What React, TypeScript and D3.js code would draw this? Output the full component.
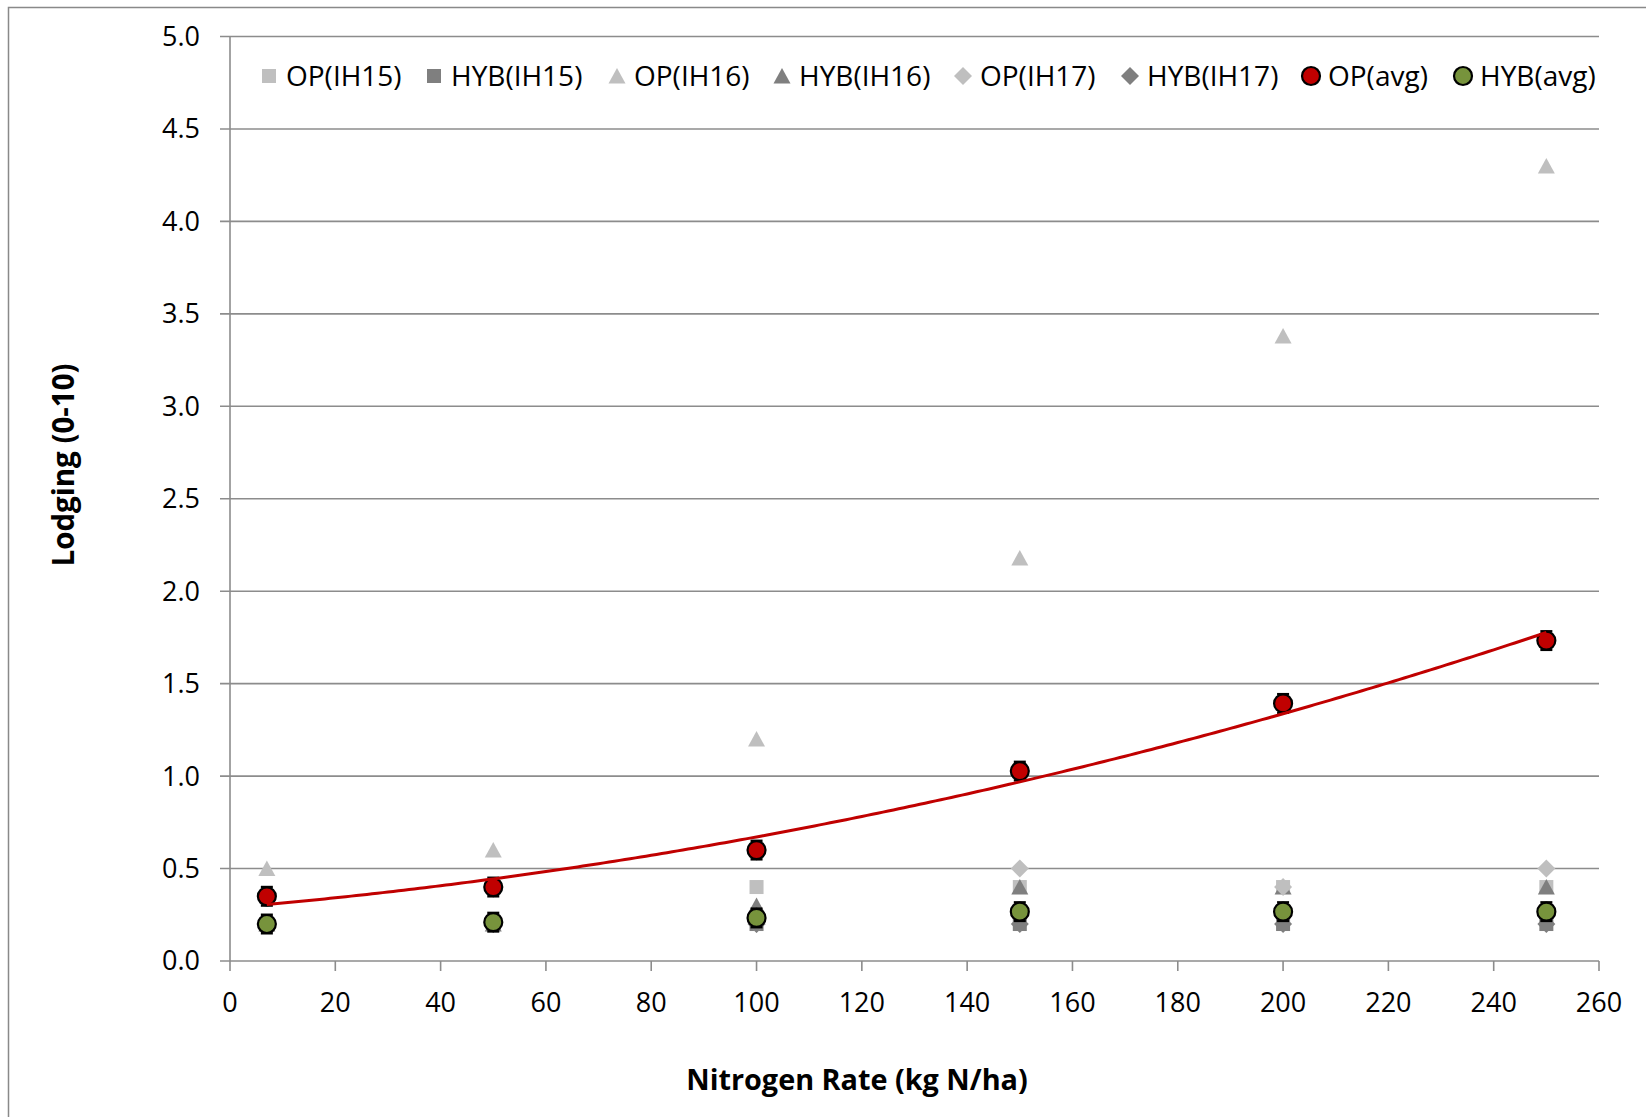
import React from "react";
import * as d3 from "d3";

// Nitrogen rates (kg N/ha)
const nRates = [7, 50, 100, 150, 200, 250];

// Lodging scores (0-10) by site-year and hybrid type
const opIH15 = [0.2, 0.2, 0.4, 0.4, 0.4, 0.4];
const hybIH15 = [0.2, 0.2, 0.2, 0.2, 0.2, 0.2];
const opIH16 = [0.5, 0.6, 1.2, 2.18, 3.38, 4.3];
const hybIH16 = [0.2, 0.2, 0.3, 0.4, 0.4, 0.4];
const opIH17 = [0.35, 0.4, 0.2, 0.5, 0.4, 0.5];
const hybIH17 = [0.2, 0.2, 0.2, 0.2, 0.2, 0.2];
const opAvg = [0.35, 0.4, 0.6, 1.027, 1.393, 1.733];
const hybAvg = [0.2, 0.21, 0.233, 0.267, 0.267, 0.267];
const opErr = [0.05, 0.05, 0.05, 0.05, 0.05, 0.05];
const hybErr = [0.05, 0.05, 0.05, 0.05, 0.05, 0.05];

const xTicks = [0, 20, 40, 60, 80, 100, 120, 140, 160, 180, 200, 220, 240, 260];
const yTicks = [0, 0.5, 1, 1.5, 2, 2.5, 3, 3.5, 4, 4.5, 5];

const legendLabels = [
  "OP(IH15)",
  "HYB(IH15)",
  "OP(IH16)",
  "HYB(IH16)",
  "OP(IH17)",
  "HYB(IH17)",
  "OP(avg)",
  "HYB(avg)",
];

const W = 1646;
const H = 1117;
const FONT = "'Open Sans', 'Liberation Sans', sans-serif";

const LIGHT = "#BFBFBF";
const DARK = "#7F7F7F";
const RED = "#C00000";
const GREEN = "#77933C";

type Shape = "square" | "triangle" | "diamond" | "circle";

function Marker({ shape, x, y, fill }: { shape: Shape; x: number; y: number; fill: string }) {
  if (shape === "square") return <rect x={x - 7} y={y - 7} width={14} height={14} fill={fill} />;
  if (shape === "triangle")
    return <path d={`M${x},${y - 8} L${x + 8.5},${y + 7.5} L${x - 8.5},${y + 7.5} Z`} fill={fill} />;
  if (shape === "diamond")
    return <path d={`M${x},${y - 9} L${x + 9},${y} L${x},${y + 9} L${x - 9},${y} Z`} fill={fill} />;
  return <circle cx={x} cy={y} r={9} fill={fill} stroke="#000" strokeWidth={2.2} />;
}

// Least-squares quadratic fit y = a + b x + c x^2
function quadFit(xs: number[], ys: number[]) {
  const n = xs.length;
  const s = [0, 0, 0, 0, 0];
  const t = [0, 0, 0];
  for (let i = 0; i < n; i++) {
    const xv = xs[i];
    for (let k = 0; k < 5; k++) s[k] += Math.pow(xv, k);
    for (let k = 0; k < 3; k++) t[k] += ys[i] * Math.pow(xv, k);
  }
  const M = [
    [s[0], s[1], s[2], t[0]],
    [s[1], s[2], s[3], t[1]],
    [s[2], s[3], s[4], t[2]],
  ];
  for (let i = 0; i < 3; i++) {
    let p = i;
    for (let r = i + 1; r < 3; r++) if (Math.abs(M[r][i]) > Math.abs(M[p][i])) p = r;
    [M[i], M[p]] = [M[p], M[i]];
    for (let r = 0; r < 3; r++) {
      if (r === i) continue;
      const f = M[r][i] / M[i][i];
      for (let c = i; c < 4; c++) M[r][c] -= f * M[i][c];
    }
  }
  return [M[0][3] / M[0][0], M[1][3] / M[1][1], M[2][3] / M[2][2]];
}

export default function App() {
  const x = d3.scaleLinear().domain([0, 260]).range([230, 1599]);
  const y = d3.scaleLinear().domain([0, 5]).range([961, 36.5]);

  const [a, b, c] = quadFit(nRates, opAvg);
  const fitX = d3.range(nRates[0], nRates[nRates.length - 1] + 0.5, 1);
  const line = d3
    .line<number>()
    .x((v) => x(v))
    .y((v) => y(a + b * v + c * v * v));

  const series: { vals: number[]; shape: Shape; fill: string }[] = [
    { vals: opIH15, shape: "square", fill: LIGHT },
    { vals: hybIH15, shape: "square", fill: DARK },
    { vals: opIH16, shape: "triangle", fill: LIGHT },
    { vals: hybIH16, shape: "triangle", fill: DARK },
    { vals: opIH17, shape: "diamond", fill: LIGHT },
    { vals: hybIH17, shape: "diamond", fill: DARK },
  ];

  const legendMarkerX = [269, 434, 617, 782, 963, 1130, 1311, 1463];
  const legendShapes: Shape[] = ["square", "square", "triangle", "triangle", "diamond", "diamond", "circle", "circle"];
  const legendFills = [LIGHT, DARK, LIGHT, DARK, LIGHT, DARK, RED, GREEN];
  const legendY = 76;

  const errBars = (vals: number[], errs: number[]) =>
    vals.map((v, i) => {
      const cx = x(nRates[i]);
      const y1 = y(v + errs[i]);
      const y2 = y(v - errs[i]);
      return (
        <g key={i} stroke="#000" strokeWidth={2.5}>
          <line x1={cx} x2={cx} y1={y1} y2={y2} />
          <line x1={cx - 6} x2={cx + 6} y1={y1} y2={y1} />
          <line x1={cx - 6} x2={cx + 6} y1={y2} y2={y2} />
        </g>
      );
    });

  return (
    <svg
      width={W}
      height={H}
      style={{ position: "absolute", left: 0, top: 0, background: "#fff" }}
      fontFamily={FONT}
    >
      <rect x={8.5} y={7.5} width={1700} height={1200} fill="#fff" stroke="#898989" strokeWidth={1.5} />

      {/* horizontal gridlines */}
      {yTicks.map((t) => (
        <line key={t} x1={220} x2={x(260)} y1={y(t)} y2={y(t)} stroke="#8C8C8C" strokeWidth={1.6} />
      ))}
      {/* y axis */}
      <line x1={x(0)} x2={x(0)} y1={y(5)} y2={y(0)} stroke="#8C8C8C" strokeWidth={1.6} />
      {/* x ticks */}
      {xTicks.map((t) => (
        <line key={t} x1={x(t)} x2={x(t)} y1={y(0)} y2={y(0) + 10} stroke="#8C8C8C" strokeWidth={1.6} />
      ))}

      {yTicks.map((t) => (
        <text key={t} x={200} y={y(t)} dy="0.35em" textAnchor="end" fontSize={27} fill="#000">
          {t.toFixed(1)}
        </text>
      ))}
      {xTicks.map((t) => (
        <text key={t} x={x(t)} y={1003} dy="0.35em" textAnchor="middle" fontSize={27} fill="#000">
          {t}
        </text>
      ))}

      <text x={857} y={1080} dy="0.35em" textAnchor="middle" fontSize={28.8} fontWeight="bold" fill="#000">
        Nitrogen Rate (kg N/ha)
      </text>
      <text
        transform={`translate(64,465) rotate(-90)`}
        dy="0.35em"
        textAnchor="middle"
        fontSize={29.5}
        fontWeight="bold"
        fill="#000"
      >
        Lodging (0-10)
      </text>

      {/* site-year series */}
      {series.map((s, si) => (
        <g key={si}>
          {s.vals.map((v, i) => (
            <Marker key={i} shape={s.shape} x={x(nRates[i])} y={y(v)} fill={s.fill} />
          ))}
        </g>
      ))}

      {/* averages with error bars */}
      {errBars(opAvg, opErr)}
      {opAvg.map((v, i) => (
        <Marker key={i} shape="circle" x={x(nRates[i])} y={y(v)} fill={RED} />
      ))}
      {errBars(hybAvg, hybErr)}
      {hybAvg.map((v, i) => (
        <Marker key={i} shape="circle" x={x(nRates[i])} y={y(v)} fill={GREEN} />
      ))}

      {/* polynomial trendline for OP average */}
      <path d={line(fitX) || ""} fill="none" stroke={RED} strokeWidth={3} />

      {/* legend */}
      {legendLabels.map((lab, i) => (
        <g key={lab}>
          <Marker shape={legendShapes[i]} x={legendMarkerX[i]} y={legendY} fill={legendFills[i]} />
          <text x={legendMarkerX[i] + 17} y={legendY} dy="0.35em" fontSize={28} fill="#000">
            {lab}
          </text>
        </g>
      ))}
    </svg>
  );
}
